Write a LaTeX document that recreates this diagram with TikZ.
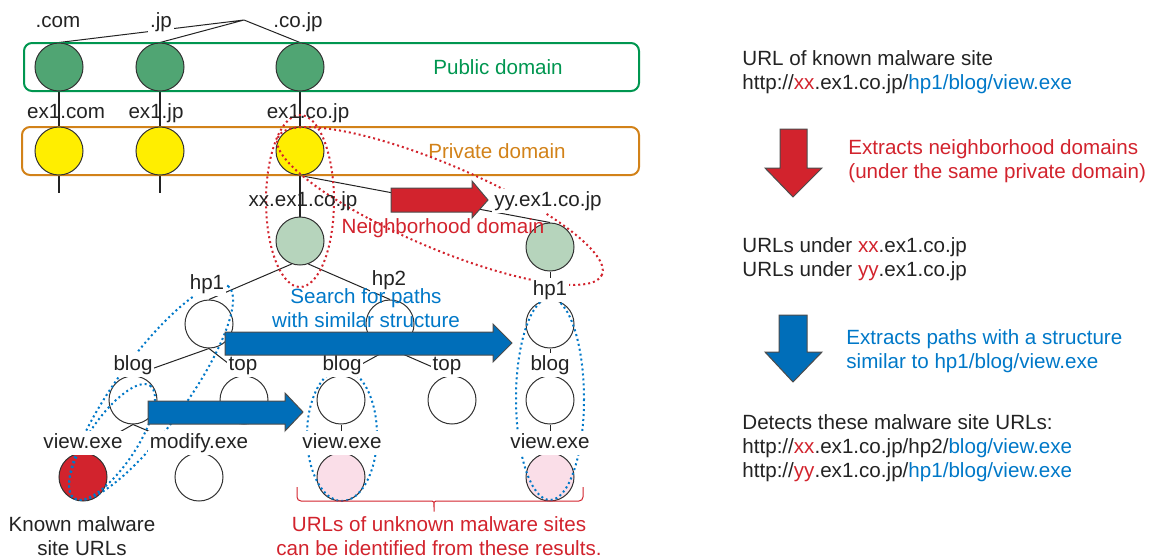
\documentclass[tikz,border=0pt]{standalone}
\usepackage{fontspec}
\setmainfont{Liberation Sans}
\usetikzlibrary{positioning}

\definecolor{pubgreen}{RGB}{0,150,80}
\definecolor{pubfill}{RGB}{80,165,115}
\definecolor{privorange}{RGB}{210,130,25}
\definecolor{privfill}{RGB}{255,238,0}
\definecolor{subfill}{RGB}{182,212,188}
\definecolor{mwred}{RGB}{210,35,45}
\definecolor{hitpink}{RGB}{250,222,232}
\definecolor{arrowblue}{RGB}{0,110,185}
\definecolor{textblue}{RGB}{0,120,200}
\definecolor{inkgray}{RGB}{35,35,35}

\pgfdeclarelayer{edges}
\pgfsetlayers{edges,main}

\tikzset
{
    domnode/.style   = {circle, draw=black!80, line width=0.5pt, inner sep=0, minimum size=24pt},
    pubnode/.style   = {domnode, fill=pubfill},
    privnode/.style  = {domnode, fill=privfill},
    subnode/.style   = {domnode, fill=subfill},
    pathnode/.style  = {domnode, fill=white},
    hitnode/.style   = {domnode, fill=hitpink},
    badnode/.style   = {domnode, fill=mwred},
    namelabel/.style = {inner sep=1pt, text height=7.5pt, text depth=2.2pt},
    pathlabel/.style = {namelabel, fill=white},
    notetext/.style  = {anchor=west, align=left, inner sep=0},
    domainbox/.style = {rounded corners=4pt, line width=1pt},
    treeedge/.style  = {draw=inkgray, line width=0.5pt},
    trunkedge/.style = {draw=inkgray, line width=1pt},
    reddots/.style   = {draw=mwred, line width=1pt, dash pattern=on 1pt off 1.5pt},
    bluedots/.style  = {draw=textblue, line width=1pt, dash pattern=on 1pt off 1.5pt},
    fatarrow/.style  = {draw=black!70, line width=0.5pt},
    bracket/.style   = {draw=mwred, line width=0.5pt, rounded corners=2pt}
}

\begin{document}
\begin{tikzpicture}
		[x=0.5pt, y=-0.5pt, every node/.style={font=\fontsize{10.3}{12}\selectfont, text=inkgray}]
		\useasboundingbox (0,0) rectangle (1152,558);

		% domain boxes
		\draw[domainbox, pubgreen] (24,43) rectangle (639,91);
		\draw[domainbox, privorange] (22,127) rectangle (639,175);
		\node[text=pubgreen] (publbl) at (498,67) {Public domain};
		\node[text=privorange] (privlbl) at (497,151) {Private domain};

		% domain tree
		\node[pubnode] (com) at (59,67) {};
		\node[pubnode] (jp) at (160,67) {};
		\node[pubnode] (cojp) at (300,67) {};
		\node[privnode] (excom) at (59,151) {};
		\node[privnode] (exjp) at (160,151) {};
		\node[privnode] (excojp) at (300,151) {};
		\node[subnode] (xx) at (300,241) {};
		\node[subnode] (yy) at (550,247) {};

		% path trees
		\node[pathnode] (hpa) at (209,324) {};
		\node[pathnode] (hpb) at (390,324) {};
		\node[pathnode] (bloga) at (133,400) {};
		\node[pathnode] (topa) at (244,400) {};
		\node[pathnode] (blogb) at (341,400) {};
		\node[pathnode] (topb) at (452,400) {};
		\node[badnode] (viewa) at (83,477) {};
		\node[pathnode] (modify) at (199,477) {};
		\node[hitnode] (viewb) at (341,477) {};
		\node[pathnode] (hpc) at (550,324) {};
		\node[pathnode] (blogc) at (550,400) {};
		\node[hitnode] (viewc) at (550,477) {};

		\begin{pgfonlayer}{edges}
			\coordinate (tld) at (244,20);
			\coordinate (stub1) at (59,193);
			\coordinate (stub2) at (160,193);
			\draw[treeedge] (tld) -- (com.north) (tld) -- (jp.north) (tld) -- (cojp.north);
			\draw[trunkedge] (com) -- (excom) (jp) -- (exjp) (cojp) -- (excojp);
			\draw[trunkedge] (excom) -- (stub1) (exjp) -- (stub2) (excojp) -- (xx);
			\draw[treeedge] (excojp.south) -- (yy.north);
			\draw[treeedge] (xx.250) -- (hpa.north) (xx.290) -- (hpb.north);
			\draw[treeedge] (hpa.south) -- (bloga.north) (hpa.south) -- (topa.north);
			\draw[treeedge] (hpb.south) -- (blogb.north) (hpb.south) -- (topb.north);
			\draw[treeedge] (bloga.south) -- (viewa.north) (bloga.south) -- (modify.north);
			\draw[treeedge] (blogb) -- (viewb);
			\draw[treeedge] (yy) -- (hpc) (hpc) -- (blogc) (blogc) -- (viewc);
		\end{pgfonlayer}

		% neighborhood and similar paths
		\draw[reddots] (300,201) ellipse [x radius=34, y radius=86];
		\draw[reddots, rotate around={-23:(440,206)}] (440,206) ellipse [x radius=176, y radius=42];
		\draw[bluedots, rotate around={54:(151,392)}] (151,392) ellipse [x radius=131, y radius=35];
		\draw[bluedots, rotate around={56:(112,442)}] (112,442) ellipse [x radius=68, y radius=24];
		\draw[bluedots] (342,435) ellipse [x radius=35, y radius=66];
		\draw[bluedots] (550,399) ellipse [x radius=34, y radius=101];

		% labels
		\node[namelabel] (lcom) at (58,22) {.com};
		\node[namelabel, fill=white] (ljp) at (161,22) {.jp};
		\node[namelabel] (lcojp) at (298,22) {.co.jp};
		\node[namelabel] (lexcom) at (66,113) {ex1.com};
		\node[namelabel] (lexjp) at (156,113) {ex1.jp};
		\node[namelabel] (lexcojp) at (308,113) {ex1.co.jp};
		\node[namelabel] (lxx) at (303,201) {xx.ex1.co.jp};
		\node[pathlabel] (lyy) at (548,201) {yy.ex1.co.jp};
		\node[pathlabel] (lhpa) at (207,284) {hp1};
		\node[pathlabel] (lhpb) at (389,280) {hp2};
		\node[pathlabel] (lhpc) at (550,290) {hp1};
		\node[pathlabel] (lbloga) at (133,365) {blog};
		\node[pathlabel] (ltopa) at (243,365) {top};
		\node[pathlabel] (lblogb) at (342,365) {blog};
		\node[pathlabel] (ltopb) at (447,365) {top};
		\node[pathlabel] (lblogc) at (550,365) {blog};
		\node[pathlabel] (lviewa) at (83,443) {view.exe};
		\node[pathlabel] (lmodify) at (199,443) {modify.exe};
		\node[pathlabel] (lviewb) at (342,443) {view.exe};
		\node[pathlabel] (lviewc) at (550,443) {view.exe};

		\node[text=mwred] (neigh) at (443,228) {Neighborhood domain};
		\node[text=textblue, align=center] (search) at (366,308) {Search for paths\\with similar structure};

		% block arrows
		\filldraw[fatarrow, fill=mwred] (391,188) -- (472,188) -- (472,181) -- (488,200) -- (472,218) -- (472,212) -- (391,212) -- cycle;
		\filldraw[fatarrow, fill=arrowblue] (225,332) -- (493,332) -- (493,324) -- (512,343) -- (493,362) -- (493,355) -- (225,355) -- cycle;
		\filldraw[fatarrow, fill=arrowblue] (148,401) -- (285,401) -- (285,393) -- (303,412) -- (285,431) -- (285,424) -- (148,424) -- cycle;

		% bottom notes
		\node[align=center] (known) at (82,536) {Known malware\\site URLs};
		\draw[bracket] (297,487) -- (297,501) -- (428,501) .. controls (434,501) .. (434,514) .. controls (434,501) .. (440,501) -- (583,501) -- (583,487);
		\node[text=mwred, align=center] (unknown) at (439,536) {URLs of unknown malware sites\\can be identified from these results.};

		% right column
		\node[notetext] (step1) at (742,72) {URL of known malware site\\http://\textcolor{mwred}{xx}.ex1.co.jp/\textcolor{textblue}{hp1/blog/view.exe}};
		\filldraw[fatarrow, fill=mwred] (780,129) -- (807,129) -- (807,168) -- (822,168) -- (793,197) -- (765,168) -- (780,168) -- cycle;
		\node[notetext, text=mwred] (note1) at (848,161) {Extracts neighborhood domains\\(under the same private domain)};
		\node[notetext] (step2) at (742,259) {URLs under \textcolor{mwred}{xx}.ex1.co.jp\\URLs under \textcolor{mwred}{yy}.ex1.co.jp};
		\filldraw[fatarrow, fill=arrowblue] (779,315) -- (807,315) -- (807,352) -- (822,352) -- (793,382) -- (765,352) -- (779,352) -- cycle;
		\node[notetext, text=textblue] (note2) at (846,351) {Extracts paths with a structure\\similar to hp1/blog/view.exe};
		\node[notetext] (step3) at (742,448) {Detects these malware site URLs:\\http://\textcolor{mwred}{xx}.ex1.co.jp/hp2/\textcolor{textblue}{blog/view.exe}\\http://\textcolor{mwred}{yy}.ex1.co.jp/\textcolor{textblue}{hp1/blog/view.exe}};
\end{tikzpicture}
\end{document}
